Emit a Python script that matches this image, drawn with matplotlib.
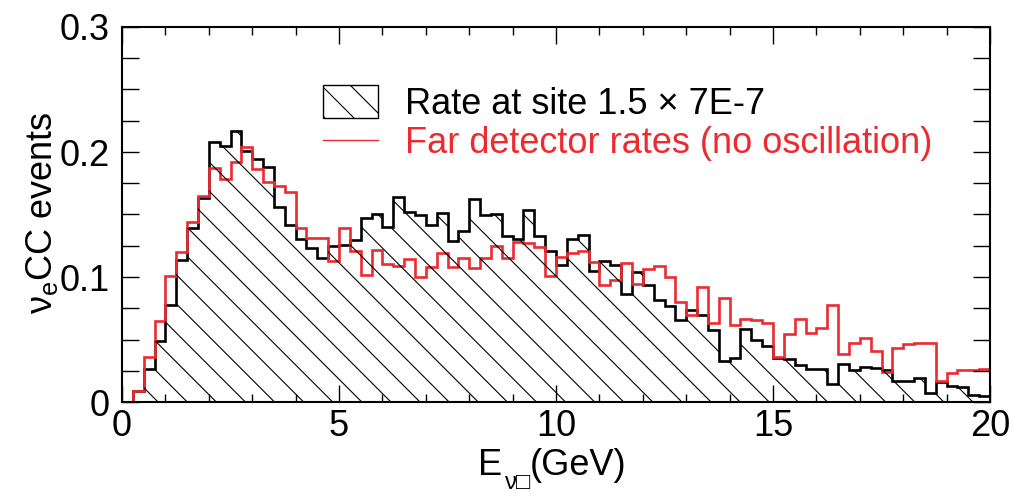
import numpy as np
import matplotlib
matplotlib.use('Agg')
import matplotlib.pyplot as plt
from matplotlib.patches import Polygon, Rectangle
from matplotlib.collections import LineCollection
from matplotlib.ticker import FixedLocator, MultipleLocator

# ---------------- data ----------------
bin_width = 0.25
x_range = [0.0, 20.0]
y_range = [0.0, 0.3]

site_rate = [
    0.000, 0.0088, 0.0266, 0.0487, 0.078, 0.114, 0.139, 0.163, 0.208, 0.205,
    0.217, 0.201, 0.194, 0.188, 0.156, 0.1415, 0.130, 0.123, 0.115, 0.1244,
    0.1257, 0.1297, 0.1471, 0.1502, 0.1399, 0.1638, 0.1518, 0.1497, 0.1417, 0.1510,
    0.1287, 0.1367, 0.1620, 0.1497, 0.1505, 0.1324, 0.1303, 0.1532, 0.1329, 0.1204,
    0.110, 0.1305, 0.1337, 0.1047, 0.1127, 0.110, 0.0866, 0.1044, 0.094, 0.082,
    0.0765, 0.0658, 0.0733, 0.0698, 0.0573, 0.0325, 0.0354, 0.0586, 0.0493, 0.0445,
    0.0354, 0.0346, 0.0298, 0.0266, 0.0266, 0.0147, 0.0301, 0.0253, 0.028, 0.0272,
    0.0258, 0.0168, 0.0168, 0.0194, 0.0072, 0.016, 0.0128, 0.012, 0.0053, 0.0045,
]

far_rate = [
    0.000, 0.0088, 0.0364, 0.065, 0.1005, 0.120, 0.144, 0.165, 0.187, 0.178,
    0.192, 0.204, 0.186, 0.176, 0.173, 0.168, 0.139, 0.131, 0.131, 0.113,
    0.139, 0.121, 0.102, 0.1217, 0.1106, 0.109, 0.1148, 0.1004, 0.1079, 0.1193,
    0.1079, 0.1154, 0.1071, 0.1151, 0.1244, 0.1151, 0.1279, 0.1273, 0.1236, 0.1012,
    0.1164, 0.1191, 0.1204, 0.1119, 0.094, 0.0978, 0.1111, 0.0946, 0.1066, 0.1092,
    0.1004, 0.0799, 0.070, 0.092, 0.063, 0.083, 0.062, 0.0666, 0.0655, 0.0632,
    0.036, 0.0546, 0.0666, 0.0554, 0.0594, 0.0773, 0.0381, 0.0474, 0.0514, 0.0405,
    0.024, 0.0432, 0.0466, 0.0472, 0.0472, 0.0168, 0.0232, 0.0258, 0.0253, 0.0264,
]

x_ticks = [0, 5, 10, 15, 20]
x_tick_labels = ['0', '5', '10', '15', '20']
y_ticks = [0.0, 0.1, 0.2, 0.3]
y_tick_labels = ['0', '0.1', '0.2', '0.3']

legend_labels = ['Rate at site 1.5 × 7E-7', 'Far detector rates (no oscillation)']
y_label = r'$\nu_{\mathrm{e}}$CC events'
x_label_parts = ['E', 'ν□', '(GeV)']

# ---------------- style ----------------
RED = '#ec2a30'
W, H = 1014, 498
plt.rcParams['font.family'] = ['Liberation Sans', 'DejaVu Sans']
plt.rcParams['mathtext.fontset'] = 'custom'
plt.rcParams['mathtext.rm'] = 'Liberation Sans'
plt.rcParams['mathtext.it'] = 'Liberation Sans'
plt.rcParams['mathtext.bf'] = 'Liberation Sans:bold'

def fx(px):
    return px / W

def fy(py):
    return 1 - py / H

fig = plt.figure(figsize=(W / 100, H / 100), dpi=100)
ax_left, ax_right, ax_top, ax_bottom = 122, 990, 27, 402
ax = fig.add_axes([fx(ax_left), fy(ax_bottom), (ax_right - ax_left) / W, (ax_bottom - ax_top) / H])

nbins = len(site_rate)
edges = x_range[0] + bin_width * np.arange(nbins + 1)
site = np.array(site_rate)
far = np.array(far_rate)

ax.set_xlim(*x_range)
ax.set_ylim(*y_range)

# hatch geometry (45 deg in pixels, ~29 px horizontal spacing)
px_per_x = (ax_right - ax_left) / (x_range[1] - x_range[0])
px_per_y = (ax_bottom - ax_top) / (y_range[1] - y_range[0])
slope = px_per_x / px_per_y          # data-y per data-x for 45 deg
spacing = 29.1 / px_per_x            # in GeV
phase = (420 - ax_left) / px_per_x

# clip polygon from histogram outline
verts = [(edges[0], 0.0)]
for i in range(nbins):
    verts.append((edges[i], site[i]))
    verts.append((edges[i + 1], site[i]))
verts.append((edges[-1], 0.0))
clip = Polygon(verts, closed=True, transform=ax.transData, facecolor='none', edgecolor='none')
ax.add_patch(clip)

span = (y_range[1] - y_range[0]) / slope
k_min = int(np.floor((x_range[0] - phase) / spacing)) - 1
k_max = int(np.ceil((x_range[1] + span - phase) / spacing)) + 1
segs = []
for k in range(k_min, k_max + 1):
    xc = phase + k * spacing
    segs.append([(xc, 0.0), (xc - span, y_range[1])])
lc = LineCollection(segs, colors='black', linewidths=0.8, transform=ax.transData)
lc.set_clip_path(clip)
ax.add_collection(lc)

ax.stairs(site, edges, color='black', linewidth=1.9, baseline=0)
ax.stairs(far, edges, color=RED, linewidth=1.9, baseline=0)

# ticks
ax.xaxis.set_major_locator(FixedLocator(x_ticks))
ax.set_xticklabels(x_tick_labels)
ax.xaxis.set_minor_locator(MultipleLocator(1))
ax.yaxis.set_major_locator(FixedLocator(y_ticks))
ax.set_yticklabels(y_tick_labels)
ax.yaxis.set_minor_locator(MultipleLocator(0.025))
ax.tick_params(which='both', direction='in', top=True, right=True, width=1.0, labelsize=26)
ax.xaxis.set_tick_params(which='major', length=12, pad=5)
ax.xaxis.set_tick_params(which='minor', length=6)
ax.yaxis.set_tick_params(which='major', length=12, pad=9)
ax.yaxis.set_tick_params(which='minor', length=12)
for sp in ax.spines.values():
    sp.set_linewidth(1.5)

# axis labels
fig.text(fx(42), fy(213), y_label, rotation=90, ha='center', va='center', fontsize=26)
fig.text(fx(478), fy(475), x_label_parts[0], fontsize=26, va='baseline', ha='left')
fig.text(fx(505), fy(489), x_label_parts[1], fontsize=17, va='baseline', ha='left')
fig.text(fx(530), fy(475), x_label_parts[2], fontsize=26, va='baseline', ha='left')

# legend (manual)
bx0, bx1, by0, by1 = 323, 378, 85, 118
box = Rectangle((fx(bx0), fy(by1)), fx(bx1) - fx(bx0), fy(by0) - fy(by1),
                transform=fig.transFigure, facecolor='none', edgecolor='black', linewidth=1.0)
fig.add_artist(box)
lsegs = []
for xs in range(bx0 - 60, bx1 + 60, 29):
    lsegs.append([(fx(xs), fy(by0)), (fx(xs + (by1 - by0)), fy(by1))])
llc = LineCollection(lsegs, colors='black', linewidths=0.8, transform=fig.transFigure)
llc.set_clip_path(box)
fig.add_artist(llc)
fig.add_artist(plt.Line2D([fx(bx0), fx(bx1)], [fy(140), fy(140)], color=RED, linewidth=1.0,
                          transform=fig.transFigure))
fig.text(fx(405), fy(114), legend_labels[0], fontsize=26, color='black', va='baseline')
fig.text(fx(405), fy(153), legend_labels[1], fontsize=26, color=RED, va='baseline')

fig.savefig('out.png', dpi=100)
